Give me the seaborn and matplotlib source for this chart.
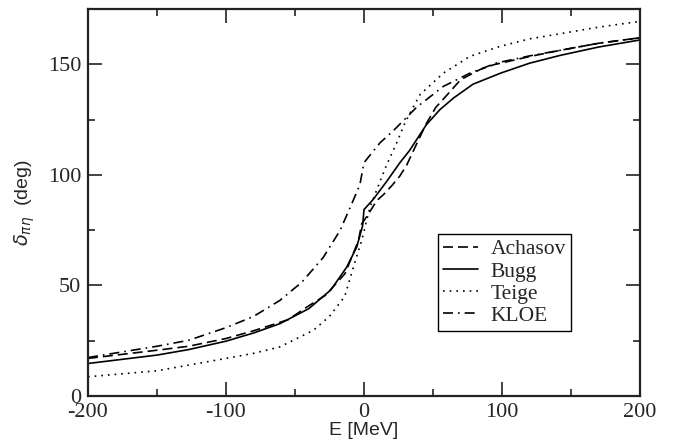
import numpy as np
import pandas as pd
import matplotlib
matplotlib.use("Agg")
import matplotlib.pyplot as plt
import seaborn as sns
from matplotlib.ticker import MultipleLocator

# ---- data ----
achasov_E = [-200, -150, -127, -100, -80, -55, -41.5, -28, -13.8, -4, -1.7, 2.4, 9.2, 14, 20, 26, 31, 37, 45, 52, 60, 70, 84, 94, 120, 142, 170, 200]
achasov_d = [17.0, 20.7, 22.5, 26.0, 29.5, 34.5, 40.2, 45.5, 55.3, 70.3, 77.8, 81.5, 88.3, 91.0, 95.0, 99.5, 104.5, 112.5, 123.0, 130.5, 136.0, 143.0, 147.6, 149.8, 153.5, 156.3, 159.5, 162.0]

bugg_E = [-200, -150, -127, -100, -80, -61, -40, -24, -12.6, -5.3, -1, 0, 6.8, 16.4, 26, 33, 45, 55, 65, 79, 99, 120, 142, 170, 200]
bugg_d = [14.7, 18.5, 21.0, 24.8, 28.5, 32.7, 39.5, 48.0, 58.2, 67.3, 77.0, 84.3, 89.0, 97.0, 105.5, 111.0, 122.5, 129.5, 134.8, 141.0, 146.0, 150.5, 154.0, 157.8, 161.0]

teige_E = [-200, -150, -100, -80, -61, -36.7, -25, -14, -7.7, -1.7, 4.3, 11.6, 16.4, 23.7, 30, 40.6, 57.5, 76.8, 98.6, 120, 142, 170, 200]
teige_d = [8.7, 11.4, 17.0, 19.3, 22.2, 29.7, 36.0, 45.0, 58.2, 70.3, 85.3, 97.0, 104.5, 114.5, 124.0, 136.3, 146.0, 153.6, 158.1, 161.5, 163.8, 166.8, 169.4]

kloe_E = [-200, -150, -127, -100, -80, -61, -45, -29.5, -17.4, -10, -3, 0, 6.8, 11.6, 21.3, 28.5, 38, 57.5, 76.8, 96, 120, 142, 170, 200]
kloe_d = [17.4, 22.5, 25.2, 30.9, 36.0, 43.2, 51.5, 62.7, 74.8, 85.3, 95.5, 105.5, 110.8, 114.5, 120.0, 124.5, 130.5, 140.0, 146.0, 150.6, 153.8, 156.3, 159.5, 162.0]

series_names = ["Achasov", "Bugg", "Teige", "KLOE"]
x_ticks = [-200, -100, 0, 100, 200]
y_ticks = [0, 50, 100, 150]

# ---- styling ----
sns.set_style("ticks")
plt.rcParams["font.family"] = ["Liberation Serif", "DejaVu Serif"]
plt.rcParams["mathtext.fontset"] = "dejavusans"
plt.rcParams["axes.unicode_minus"] = False

fig = plt.figure(figsize=(6.73, 4.41), dpi=100)
ax = fig.add_axes([88 / 673, 45 / 441, 552 / 673, 387 / 441])

styles = {
    "Achasov": dict(linestyle=(0, (6, 3))),
    "Bugg": dict(linestyle="-"),
    "Teige": dict(linestyle=(0, (1, 3))),
    "KLOE": dict(linestyle=(0, (6, 3, 1, 3))),
}
data = {
    "Achasov": (achasov_E, achasov_d),
    "Bugg": (bugg_E, bugg_d),
    "Teige": (teige_E, teige_d),
    "KLOE": (kloe_E, kloe_d),
}
for name in series_names:
    E, d = data[name]
    sns.lineplot(x=E, y=d, ax=ax, color="black", linewidth=1.2, sort=False,
                 label=name, **styles[name])

ax.set_xlim(-200, 200)
ax.set_ylim(0, 175)
ax.set_xticks(x_ticks)
ax.set_yticks(y_ticks)
ax.xaxis.set_minor_locator(MultipleLocator(50))
ax.yaxis.set_minor_locator(MultipleLocator(25))
ax.tick_params(which="both", direction="in", top=True, right=True, width=1.2, color="#222222")
ax.tick_params(which="major", length=10, labelsize=16, pad=5)
ax.tick_params(which="minor", length=5)
for s in ax.spines.values():
    s.set_linewidth(1.6)
    s.set_color("#222222")

ax.set_xlabel("E [MeV]", family=["Liberation Sans", "DejaVu Sans"], fontsize=14, labelpad=0)
ax.set_ylabel(r"$\delta_{\pi\eta}$  (deg)", family=["Liberation Sans", "DejaVu Sans"], fontsize=14, labelpad=8)

leg = ax.legend(loc="upper left", bbox_to_anchor=(0.634, 0.419), fontsize=15.5,
                frameon=True, fancybox=False, shadow=False, handlelength=1.6,
                handletextpad=0.6, borderpad=0.25, labelspacing=0.1, borderaxespad=0)
leg.get_frame().set_edgecolor("black")
leg.get_frame().set_linewidth(1.0)
leg.get_frame().set_alpha(1)

fig.savefig("out.png", dpi=100)
